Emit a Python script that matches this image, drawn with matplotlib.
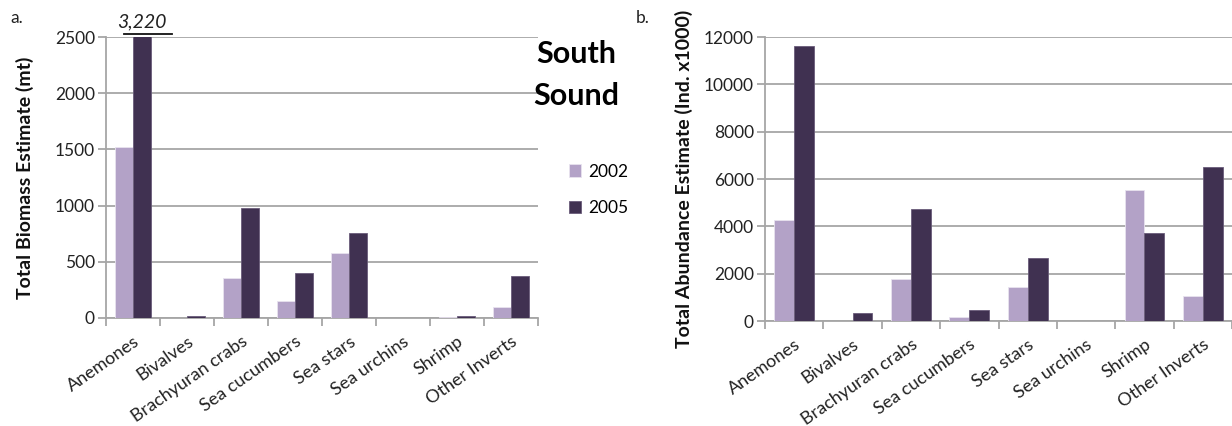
import matplotlib
matplotlib.use("Agg")
import matplotlib.pyplot as plt
import numpy as np

categories = ["Anemones", "Bivalves", "Brachyuran crabs", "Sea cucumbers",
              "Sea stars", "Sea urchins", "Shrimp", "Other Inverts"]
years = ["2002", "2005"]
biomass_2002 = [1525, 0, 360, 150, 580, 0, 12, 95]
biomass_2005 = [3220, 15, 980, 400, 755, 0, 15, 370]
abund_2002 = [4250, 0, 1780, 180, 1420, 0, 5540, 1055]
abund_2005 = [11600, 330, 4720, 480, 2650, 0, 3730, 6520]
biomass_ticks = [0, 500, 1000, 1500, 2000, 2500]
abund_ticks = [0, 2000, 4000, 6000, 8000, 10000, 12000]

C_LIGHT = "#B3A2C7"
C_DARK = "#403151"
GRID = "#A6A6A6"
TXT = "#222222"
FONT = "Lato"

plt.rcParams['font.family'] = [FONT, 'DejaVu Sans']

W, H = 1232, 426
fig = plt.figure(figsize=(W / 100, H / 100), dpi=100)

def ax_at(x0, y0, x1, y1):
    return fig.add_axes([x0 / W, 1 - y1 / H, (x1 - x0) / W, (y1 - y0) / H])

def style(ax, vals1, vals2, ticks, ymax, ylabel, labelpad):
    n = len(categories)
    x = np.arange(n)
    bw = 0.34
    ax.bar(x - bw / 2, vals1, bw, color=C_LIGHT, edgecolor="#E8E2EF", linewidth=0.6, zorder=3, label=years[0])
    ax.bar(x + bw / 2, vals2, bw, color=C_DARK, edgecolor="#6A5C7A", linewidth=0.6, zorder=3, label=years[1])
    ax.set_xlim(-0.5, n - 0.5)
    ax.set_ylim(0, ymax)
    ax.set_yticks(ticks)
    ax.set_yticklabels([str(t) for t in ticks], fontsize=12.5, color=TXT)
    ax.yaxis.grid(True, color=GRID, linewidth=1.3, zorder=0)
    ax.set_axisbelow(True)
    ax.tick_params(axis='y', length=6, width=1.3, color=GRID, pad=2)
    # category boundary ticks
    ax.set_xticks(np.arange(-0.5, n, 1.0))
    ax.set_xticklabels([])
    ax.tick_params(axis='x', which='major', length=6, color=GRID, width=1.3, direction='out')
    ax.set_xticks(x, minor=True)
    ax.set_xticklabels(categories, minor=True, rotation=35, ha='right',
                       rotation_mode='anchor', fontsize=13, color=TXT)
    ax.tick_params(axis='x', which='minor', length=0, pad=11)
    for s in ['top', 'right']:
        ax.spines[s].set_visible(False)
    ax.spines['left'].set_color(GRID)
    ax.spines['bottom'].set_color(GRID)
    ax.spines['left'].set_linewidth(1.3)
    ax.spines['bottom'].set_linewidth(1.3)
    ax.set_ylabel(ylabel, fontsize=14, fontweight='bold', color="#111111", labelpad=labelpad)
    return ax

axL = ax_at(106, 37, 538, 318)
style(axL, biomass_2002, biomass_2005, biomass_ticks, 2500, "Total Biomass Estimate (mt)", 15)
# broken bar annotation
axL.text(0.17, 2500 * 1.022, f"{biomass_2005[0]:,}", ha='center', va='bottom', style='italic',
         fontsize=14, color=TXT, zorder=6)
axL.plot([-0.16, 0.72], [2500 * 1.012, 2500 * 1.012], color="#111111", lw=1.3, clip_on=False, zorder=7)

axR = ax_at(765, 37, 1232, 321)
style(axR, abund_2002, abund_2005, abund_ticks, 12000, "Total Abundance Estimate (Ind. x1000)", 8)

fig.text(576 / W, 1 - 54 / H, "South", ha='center', va='center', fontsize=22, fontweight='bold')
fig.text(576 / W, 1 - 96 / H, "Sound", ha='center', va='center', fontsize=22, fontweight='bold')

handles = [axL.containers[0], axL.containers[1]]
leg = fig.legend(handles, years, loc='center left', bbox_to_anchor=(553 / W, 1 - 190 / H),
                 frameon=False, fontsize=12.5, handlelength=0.7, handleheight=0.7,
                 labelspacing=1.2, handletextpad=0.4)

fig.text(10 / W, 1 - 18 / H, "a.", fontsize=12.5, va='center', color=TXT)
fig.text(636 / W, 1 - 18 / H, "b.", fontsize=12.5, va='center', color=TXT)

fig.savefig("out.png", dpi=100)
